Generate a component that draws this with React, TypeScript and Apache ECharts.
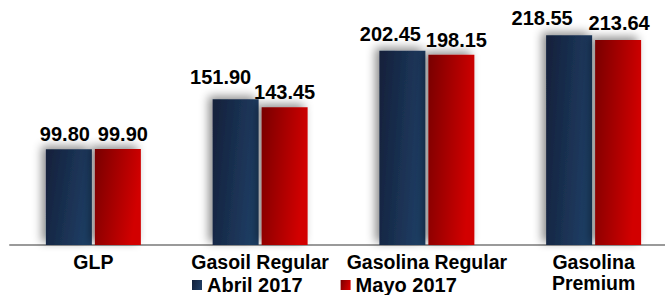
import React, { useEffect, useRef } from "react";
import * as echarts from "echarts";

const categories = ["GLP", "Gasoil Regular", "Gasolina Regular", "Gasolina\nPremium"];
const abril2017 = [99.8, 151.9, 202.45, 218.55];
const mayo2017 = [99.9, 143.45, 198.15, 213.64];
const seriesNames = ["Abril 2017", "Mayo 2017"];
const abrilLabelOffsets = [[-4, 0], [-15, -7], [-12, -2], [-27, -2]];
const mayoLabelOffsets = [[5, 0], [0, 0], [5, 0], [1, -2]];

const FONT = "'Liberation Sans', Arial, sans-serif";

export default function App() {
  const ref = useRef<HTMLDivElement>(null);
  useEffect(() => {
    if (!ref.current) return;
    const chart = echarts.init(ref.current, undefined, { renderer: "svg" });
    const blue = new echarts.graphic.LinearGradient(0, 0, 1, 0.3, [
      { offset: 0, color: "#12203a" },
      { offset: 1, color: "#1f3c62" },
    ]);
    const red = new echarts.graphic.LinearGradient(0, 0, 1, 0.3, [
      { offset: 0, color: "#780000" },
      { offset: 1, color: "#d20000" },
    ]);
    const labelBase = {
      show: true,
      position: "top" as const,
      distance: 5,
      fontFamily: FONT,
      fontWeight: "bold" as const,
      fontSize: 20,
      color: "#000",
      formatter: (p: any) => Number(p.value).toFixed(2),
    };
    const shadow = {
      shadowBlur: 10,
      shadowColor: "rgba(0,0,0,0.45)",
      shadowOffsetX: -4,
      shadowOffsetY: -3,
    };
    chart.setOption({
      animation: false,
      backgroundColor: "#fff",
      grid: {
        left: 10,
        top: 5,
        width: 667,
        height: 240,
        containLabel: false,
        outerBoundsMode: "none",
      },
      legend: {
        left: 192,
        top: 275,
        padding: 0,
        itemWidth: 10,
        itemHeight: 10,
        itemGap: 38,
        icon: "rect",
        textStyle: { fontFamily: FONT, fontWeight: "bold", fontSize: 20, color: "#000" },
        data: seriesNames,
      },
      xAxis: {
        type: "category",
        data: categories,
        axisLine: { show: true, lineStyle: { color: "#9a9a9a", width: 2 } },
        axisTick: { show: false },
        axisLabel: {
          margin: 6,
          interval: 0,
          fontFamily: FONT,
          fontWeight: "bold",
          fontSize: 19.5,
          lineHeight: 21,
          color: "#000",
        },
      },
      yAxis: {
        type: "value",
        min: 0,
        max: 250,
        show: false,
        splitLine: { show: false },
      },
      series: [
        {
          name: seriesNames[0],
          type: "bar",
          barWidth: 46,
          barGap: "6.5%",
          itemStyle: { color: blue, ...shadow },
          data: abril2017.map((v, i) => ({
            value: v,
            label: { ...labelBase, offset: abrilLabelOffsets[i] },
          })),
          label: labelBase,
        },
        {
          name: seriesNames[1],
          type: "bar",
          barWidth: 46,
          barGap: "6.5%",
          itemStyle: { color: red, ...shadow },
          data: mayo2017.map((v, i) => ({
            value: v,
            label: { ...labelBase, offset: mayoLabelOffsets[i] },
          })),
          label: labelBase,
        },
      ],
    });
    return () => chart.dispose();
  }, []);
  return (
    <div
      ref={ref}
      style={{ position: "fixed", left: 0, top: 0, width: 665, height: 295 }}
    />
  );
}
